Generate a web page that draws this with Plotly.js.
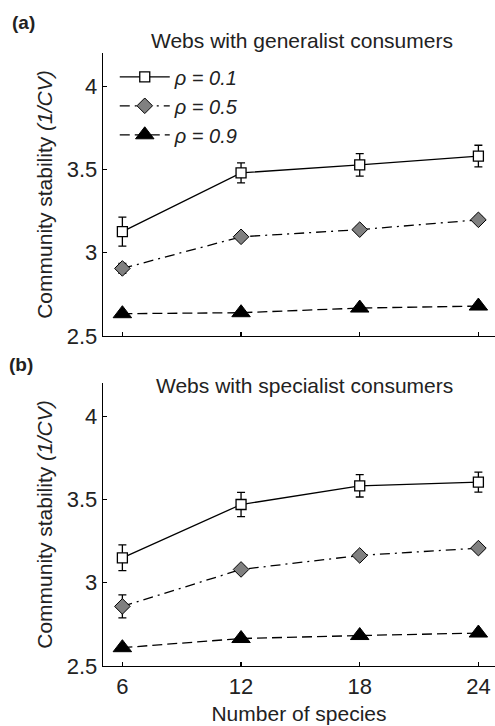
<!DOCTYPE html>
<html><head><meta charset="utf-8">
<script src="https://cdn.plot.ly/plotly-3.0.1.min.js"></script>
<style>html,body{margin:0;padding:0;background:#fff}#chart{width:495px;height:726px}</style>
</head><body><div id="chart"></div>
<script>
// ---- data ----
const species = [6, 12, 18, 24];
const speciesLabels = ['6', '12', '18', '24'];
const stabTicks = [2.5, 3, 3.5, 4];
const stabTickLabels = ['2.5', '3', '3.5', '4'];
const seriesNames = ['ρ = 0.1', 'ρ = 0.5', 'ρ = 0.9'];

// (a) generalist consumers
const genRho01 = [3.127, 3.480, 3.528, 3.581];
const genRho01Err = [0.087, 0.060, 0.067, 0.065];
const genRho05 = [2.906, 3.096, 3.139, 3.198];
const genRho05Err = [0.03, 0.02, 0.02, 0.02];
const genRho09 = [2.634, 2.640, 2.668, 2.680];
const genRho09Err = [0.01, 0.01, 0.01, 0.01];

// (b) specialist consumers
const specRho01 = [3.150, 3.470, 3.582, 3.604];
const specRho01Err = [0.077, 0.073, 0.067, 0.060];
const specRho05 = [2.858, 3.080, 3.164, 3.208];
const specRho05Err = [0.069, 0.02, 0.02, 0.02];
const specRho09 = [2.610, 2.665, 2.683, 2.698];
const specRho09Err = [0.01, 0.01, 0.01, 0.01];

// ---- styles ----
const txt = '#222';
const FONT = 'Liberation Sans, Arial, sans-serif';
const styles = [
  {dash: 'solid', marker: {symbol: 'square', size: 10, color: 'white', line: {color: 'black', width: 1.3}}},
  {dash: '10px,5px,2px,5px', marker: {symbol: 'diamond', size: 12, color: '#808080', line: {color: 'black', width: 1}}},
  {dash: '10px,5px', marker: {symbol: 'triangle-up', size: 16, color: 'black', line: {color: 'black', width: 1}}}
];

function mk(y, err, i, xa, ya, showleg) {
  return {
    x: species, y: y, xaxis: xa, yaxis: ya, type: 'scatter', mode: 'lines+markers',
    name: seriesNames[i], showlegend: showleg, legendgroup: 'g' + i,
    line: {color: 'black', width: 1.3, dash: styles[i].dash},
    marker: styles[i].marker,
    error_y: {type: 'data', array: err, visible: true, color: 'black', thickness: 1.3, width: 4}
  };
}

const traces = [
  mk(genRho01, genRho01Err, 0, 'x', 'y', true),
  mk(genRho05, genRho05Err, 1, 'x', 'y', true),
  mk(genRho09, genRho09Err, 2, 'x', 'y', true),
  mk(specRho01, specRho01Err, 0, 'x2', 'y2', false),
  mk(specRho05, specRho05Err, 1, 'x2', 'y2', false),
  mk(specRho09, specRho09Err, 2, 'x2', 'y2', false)
];

const xBase = {
  range: [5.02, 24.84], tickvals: species, ticktext: speciesLabels,
  ticks: 'inside', ticklen: 4, tickwidth: 1.3, tickcolor: 'black',
  showline: true, linecolor: 'black', linewidth: 1.3,
  showgrid: false, zeroline: false, fixedrange: true,
  tickfont: {family: FONT, size: 22, color: txt}
};
const yBase = {
  range: [2.5, 4.2], tickvals: stabTicks, ticktext: stabTickLabels,
  ticks: 'inside', ticklen: 4, tickwidth: 1.3, tickcolor: 'black',
  showline: true, linecolor: 'black', linewidth: 1.3,
  showgrid: false, zeroline: false, fixedrange: true,
  tickfont: {family: FONT, size: 22, color: txt},
  title: {text: 'Community stability <i>(1/CV)</i>', standoff: 8,
          font: {family: FONT, size: 21, color: txt}}
};

const layout = {
  width: 495, height: 726,
  margin: {l: 103, r: 0, t: 53, b: 60},
  paper_bgcolor: 'white', plot_bgcolor: 'white',
  font: {family: FONT, color: txt},
  xaxis: Object.assign({}, xBase, {anchor: 'y', showticklabels: false}),
  xaxis2: Object.assign({}, xBase, {anchor: 'y2', showticklabels: true,
    title: {text: 'Number of species', standoff: 8,
            font: {family: FONT, size: 21, color: txt}}}),
  yaxis: Object.assign({}, yBase, {anchor: 'x', domain: [0.5383, 1]}),
  yaxis2: Object.assign({}, yBase, {anchor: 'x2', domain: [0, 0.4617]}),
  showlegend: true,
  legend: {
    x: 0.03, y: 0.993, xanchor: 'left', yanchor: 'top',
    bgcolor: 'rgba(0,0,0,0)', borderwidth: 0, itemwidth: 50,
    font: {family: FONT, size: 20, color: txt, style: 'italic'},
    tracegroupgap: 0
  },
  annotations: [
    {text: 'Webs with generalist consumers', xref: 'paper', yref: 'paper', x: 0.508, y: 1.0206,
     xanchor: 'center', yanchor: 'middle', showarrow: false,
     font: {size: 21, color: txt}},
    {text: 'Webs with specialist consumers', xref: 'paper', yref: 'paper', x: 0.513, y: 0.4584,
     xanchor: 'center', yanchor: 'middle', showarrow: false,
     font: {size: 21, color: txt}},
    {text: '<b>(a)</b>', xref: 'paper', yref: 'paper', x: (10 - 103) / 392, y: (666 - 22.5) / 613,
     xanchor: 'left', yanchor: 'middle', showarrow: false, font: {size: 19, color: txt}},
    {text: '<b>(b)</b>', xref: 'paper', yref: 'paper', x: (7 - 103) / 392, y: (666 - 364.5) / 613,
     xanchor: 'left', yanchor: 'middle', showarrow: false, font: {size: 19, color: txt}}
  ]
};

Plotly.newPlot('chart', traces, layout, {displayModeBar: false, staticPlot: true});
</script>
</body></html>
